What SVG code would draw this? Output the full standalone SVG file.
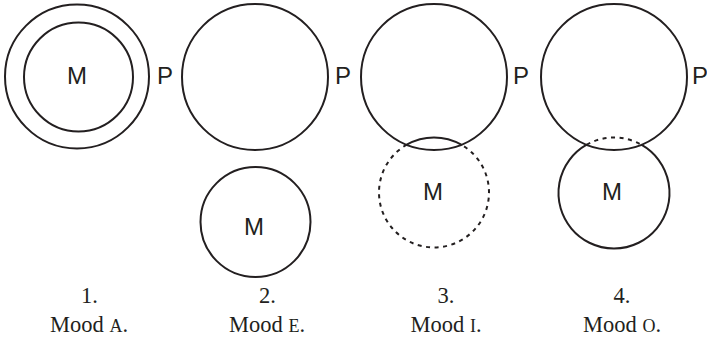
<svg xmlns="http://www.w3.org/2000/svg" width="707" height="338" viewBox="0 0 707 338">
<style>
.c{fill:none;stroke:#231f20;stroke-width:2}
.d{fill:none;stroke:#231f20;stroke-width:2;stroke-dasharray:4 4.5}
.s{font-family:"Liberation Sans",Arial,sans-serif;font-size:24px;fill:#231f20}
.t{font-family:"Liberation Serif","Times New Roman",serif;font-size:22.5px;fill:#231f20;text-anchor:middle}
.sc{font-size:18px}
</style>
<rect width="707" height="338" fill="#fff"/>
<g id="fig1">
<circle class="c" cx="77" cy="76.5" r="72"/>
<circle class="c" cx="78.5" cy="77" r="54.5"/>
<text class="s" x="77" y="84" text-anchor="middle">M</text>
<text class="s" x="157" y="84">P</text>
</g>
<g id="fig2">
<circle class="c" cx="255" cy="77" r="73"/>
<text class="s" x="335" y="84">P</text>
<circle class="c" cx="255.5" cy="222" r="55"/>
<text class="s" x="254" y="235" text-anchor="middle">M</text>
</g>
<g id="fig3">
<circle class="c" cx="434" cy="77" r="73"/>
<text class="s" x="513" y="84">P</text>
<path class="d" d="M406.7 144.7 A55 55 0 1 0 461.3 144.7"/>
<path class="c" d="M406.7 144.7 A55 55 0 0 1 461.3 144.7"/>
<text class="s" x="433" y="200" text-anchor="middle">M</text>
</g>
<g id="fig4">
<circle class="c" cx="614" cy="77" r="73"/>
<text class="s" x="692" y="84">P</text>
<path class="c" d="M586.7 144.7 A55.5 55.5 0 1 0 641.3 144.7"/>
<path class="d" d="M586.7 144.7 A55.5 55.5 0 0 1 641.3 144.7"/>
<text class="s" x="612" y="200" text-anchor="middle">M</text>
</g>
<g id="labels">
<text class="t" x="89.5" y="303">1.</text>
<text class="t" x="89" y="332">Mood <tspan class="sc">A</tspan>.</text>
<text class="t" x="267.5" y="303">2.</text>
<text class="t" x="267" y="332">Mood <tspan class="sc">E</tspan>.</text>
<text class="t" x="446" y="303">3.</text>
<text class="t" x="446" y="332">Mood <tspan class="sc">I</tspan>.</text>
<text class="t" x="622" y="303">4.</text>
<text class="t" x="622" y="332">Mood <tspan class="sc">O</tspan>.</text>
</g>
</svg>
